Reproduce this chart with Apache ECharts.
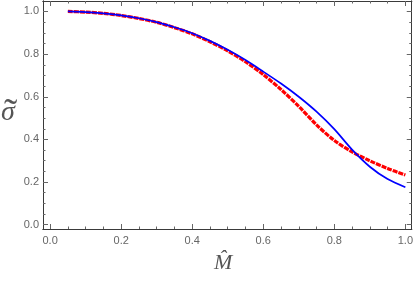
<!DOCTYPE html>
<html>
<head>
<meta charset="utf-8">
<script src="https://cdn.jsdelivr.net/npm/echarts@6/dist/echarts.min.js"></script>
<style>html,body{margin:0;padding:0;background:#fff}#c{width:416px;height:285px}</style>
</head>
<body>
<div id="c"></div>
<script>
const mHat = [0.05,0.10,0.15,0.20,0.25,0.30,0.35,0.40,0.45,0.50,0.55,0.60,0.65,0.70,0.75,0.80,0.85,0.90,0.95,1.00];
const sigmaBlue = [1.000,0.997,0.991,0.982,0.968,0.950,0.926,0.898,0.862,0.820,0.772,0.718,0.662,0.600,0.530,0.448,0.352,0.272,0.214,0.176];
const sigmaRed  = [1.000,0.997,0.991,0.981,0.967,0.949,0.924,0.895,0.858,0.815,0.764,0.704,0.634,0.555,0.468,0.395,0.342,0.300,0.264,0.233];
const majorTicks = [0,0.2,0.4,0.6,0.8,1.0];
const minorTicks = [0.05,0.1,0.15,0.25,0.3,0.35,0.45,0.5,0.55,0.65,0.7,0.75,0.85,0.9,0.95];
const xLabel = 'M\u0302';
const yLabelBase = '\u03C3';
const yLabelAccent = '\u02DC';

const X_MIN = -0.02, X_MAX = 1.018, Y_MIN = -0.02, Y_MAX = 1.049;
const frameColor = '#3a3a3a';
const tickColor = '#666';
const labelColor = '#666';

function mkAxis(type, pos, major, showLabel, min, max) {
  return {
    type: 'value', position: pos, min: min, max: max,
    axisLine: { show: true, onZero: false, lineStyle: { color: frameColor, width: 1 } },
    axisTick: { show: true, inside: true, length: major ? 5 : 2.5,
      customValues: major ? majorTicks : minorTicks,
      lineStyle: { color: tickColor, width: 1 } },
    axisLabel: { show: showLabel, customValues: majorTicks,
      formatter: v => v.toFixed(1), color: labelColor,
      fontFamily: 'Liberation Sans', fontSize: 11, margin: type === 'x' ? 6 : 4 },
    splitLine: { show: false },
    minorTick: { show: false }
  };
}

const chart = echarts.init(document.getElementById('c'), null, { renderer: 'canvas' });
chart.setOption({
  animation: false,
  grid: { left: 43, right: 2, top: 1, bottom: 56, containLabel: false },
  xAxis: [
    mkAxis('x', 'bottom', true, true, X_MIN, X_MAX),
    mkAxis('x', 'bottom', false, false, X_MIN, X_MAX),
    mkAxis('x', 'top', true, false, X_MIN, X_MAX),
    mkAxis('x', 'top', false, false, X_MIN, X_MAX)
  ],
  yAxis: [
    mkAxis('y', 'left', true, true, Y_MIN, Y_MAX),
    mkAxis('y', 'left', false, false, Y_MIN, Y_MAX),
    mkAxis('y', 'right', true, false, Y_MIN, Y_MAX),
    mkAxis('y', 'right', false, false, Y_MIN, Y_MAX)
  ],
  series: [
    { type: 'line', xAxisIndex: 0, yAxisIndex: 0, showSymbol: false, smooth: 0.3,
      data: mHat.map((x, i) => [x, sigmaRed[i]]),
      lineStyle: { color: '#ff0000', width: 3.2, type: [5, 1] }, z: 2 },
    { type: 'line', xAxisIndex: 0, yAxisIndex: 0, showSymbol: false, smooth: 0.3,
      data: mHat.map((x, i) => [x, sigmaBlue[i]]),
      lineStyle: { color: '#0000ff', width: 1.7 }, z: 3 }
  ],
  graphic: [
    { type: 'text', left: 1, top: 99,
      style: { text: yLabelBase, font: 'italic 28px "Liberation Serif"', fill: '#555' } },
    { type: 'text', left: 4, top: 95,
      style: { text: yLabelAccent, font: '40px "Liberation Serif"', fill: '#555' } },
    { type: 'text', left: 214, top: 252,
      style: { text: xLabel, font: 'italic 22px "Liberation Serif"', fill: '#555' } }
  ]
});
</script>
</body>
</html>
